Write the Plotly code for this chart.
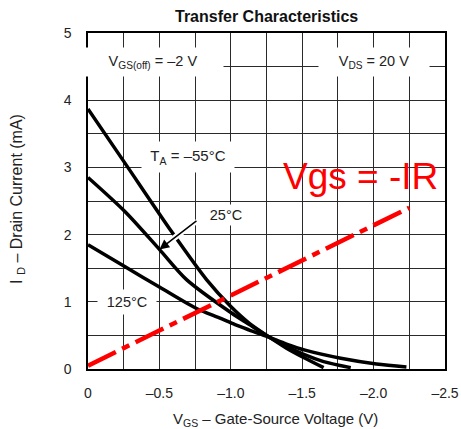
import plotly.graph_objects as go

# ---- data ----
vgs_m55 = [0, -0.26, -0.59, -0.83, -1.0, -1.13, -1.28, -1.39, -1.52, -1.65]
id_m55 = [3.87, 3.06, 2.03, 1.33, 0.93, 0.68, 0.46, 0.31, 0.16, 0.02]

vgs_25 = [0, -0.26, -0.5, -0.69, -1.0, -1.13, -1.28, -1.39, -1.52, -1.65, -1.84]
id_25 = [2.85, 2.34, 1.78, 1.33, 0.84, 0.66, 0.46, 0.34, 0.21, 0.11, 0.02]

vgs_125 = [0, -0.26, -0.5, -0.76, -0.92, -1.03, -1.13, -1.26, -1.39, -1.52, -1.77, -2.02, -2.23]
id_125 = [1.85, 1.52, 1.22, 0.90, 0.76, 0.66, 0.58, 0.48, 0.37, 0.28, 0.16, 0.075, 0.03]

load_vgs = [0, -2.25]
load_id = [0.05, 2.40]

x_tickvals = [0, -0.5, -1.0, -1.5, -2.0, -2.5]
x_ticktext = ["0", "–0.5", "–1.0", "–1.5", "–2.0", "–2.5"]
y_tickvals = [0, 1, 2, 3, 4, 5]
y_ticktext = ["0", "1", "2", "3", "4", "5"]

FONT = "Liberation Sans, Arial, sans-serif"
GRID = "#2a2a2a"

fig = go.Figure()
for xs, ys in [(vgs_m55, id_m55), (vgs_25, id_25), (vgs_125, id_125)]:
    fig.add_trace(go.Scatter(x=xs, y=ys, mode="lines",
                             line=dict(color="black", width=3.5, shape="spline", smoothing=0.8),
                             hoverinfo="skip", showlegend=False))
fig.add_trace(go.Scatter(x=load_vgs, y=load_id, mode="lines",
                         line=dict(color="#ff0000", width=4.5, dash="31px,7px,8px,7px"),
                         hoverinfo="skip", showlegend=False))

fig.update_layout(
    width=461, height=429,
    margin=dict(l=88, r=16, t=33, b=60, autoexpand=False),
    paper_bgcolor="white", plot_bgcolor="white",
    font=dict(family=FONT, size=14, color="#222"),
    showlegend=False,
)
fig.update_xaxes(
    range=[0, -2.5], tickvals=x_tickvals, ticktext=x_ticktext,
    showgrid=True, gridcolor=GRID, gridwidth=1,
    minor=dict(dtick=0.25, showgrid=True, gridcolor=GRID, gridwidth=1),
    zeroline=False, showline=True, linecolor="black", linewidth=1.5, mirror=True,
    ticks="", ticklabelstandoff=10, tickfont=dict(size=14, color="#222"),
    ticklabeloverflow="allow", automargin=False,
)
fig.update_yaxes(
    range=[0, 5], tickvals=y_tickvals, ticktext=y_ticktext,
    showgrid=True, gridcolor=GRID, gridwidth=1,
    minor=dict(dtick=0.5, showgrid=True, gridcolor=GRID, gridwidth=1),
    zeroline=False, showline=True, linecolor="black", linewidth=1.5, mirror=True,
    ticks="", ticklabelstandoff=12, tickfont=dict(size=14, color="#222"),
    ticklabeloverflow="allow", automargin=False,
)

ann = []
# title and axis titles
ann.append(dict(text="<b>Transfer Characteristics</b>", xref="paper", yref="paper",
                x=0.5, y=1.0, yshift=17, xanchor="center", yanchor="middle",
                showarrow=False, font=dict(size=16, color="#111")))
ann.append(dict(text="V<sub>GS</sub> – Gate-Source Voltage (V)", xref="paper", yref="paper",
                x=0.524, y=0, yshift=-50, xanchor="center", yanchor="middle",
                showarrow=False, font=dict(size=15, color="#222")))
ann.append(dict(text="I <sub>D</sub> – Drain Current (mA)", xref="paper", yref="paper",
                x=0, xshift=-70, y=0.506, xanchor="center", yanchor="middle",
                textangle=-90, showarrow=False, font=dict(size=16, color="#222")))

# boxed labels (white background masks grid)
def lab(text, x, y, w, h, size=14.5):
    return dict(text=text, x=x, y=y, xref="x", yref="y", showarrow=False,
                xanchor="center", yanchor="middle",
                bgcolor="white", width=w, height=h, borderpad=0,
                font=dict(size=size, color="#222"))

ann.append(lab("V<sub>GS(off)</sub> = –2 V", -0.455, 4.57, 140, 28))
ann.append(lab("V<sub>DS</sub> = 20 V", -2.0, 4.57, 110, 28))
ann.append(lab("T<sub>A</sub> = –55°C", -0.70, 3.15, 92, 30, 15))
ann.append(lab("25°C", -0.966, 2.29, 48, 20))
ann.append(lab("125°C", -0.273, 1.0, 58, 24))
# arrow: white halo then black arrow
ann.append(dict(text="", x=-0.5, y=1.78, ax=-0.77, ay=2.22, xref="x", yref="y",
                axref="x", ayref="y", showarrow=True, arrowhead=0, arrowwidth=6,
                arrowcolor="white", standoff=14))
ann.append(dict(text="", x=-0.5, y=1.78, ax=-0.77, ay=2.22, xref="x", yref="y",
                axref="x", ayref="y", showarrow=True, arrowhead=2, arrowsize=1.3,
                arrowwidth=1.5, arrowcolor="black"))
# red text
ann.append(dict(text="Vgs = -IR", x=-1.905, y=2.86, xref="x", yref="y", showarrow=False,
                xanchor="center", yanchor="middle",
                font=dict(size=37, color="#ff0000")))
fig.update_layout(annotations=ann)

fig.write_html("out.html",
               config={"displayModeBar": False},
               post_script="document.body.style.margin='0';document.body.style.overflow='hidden';")
